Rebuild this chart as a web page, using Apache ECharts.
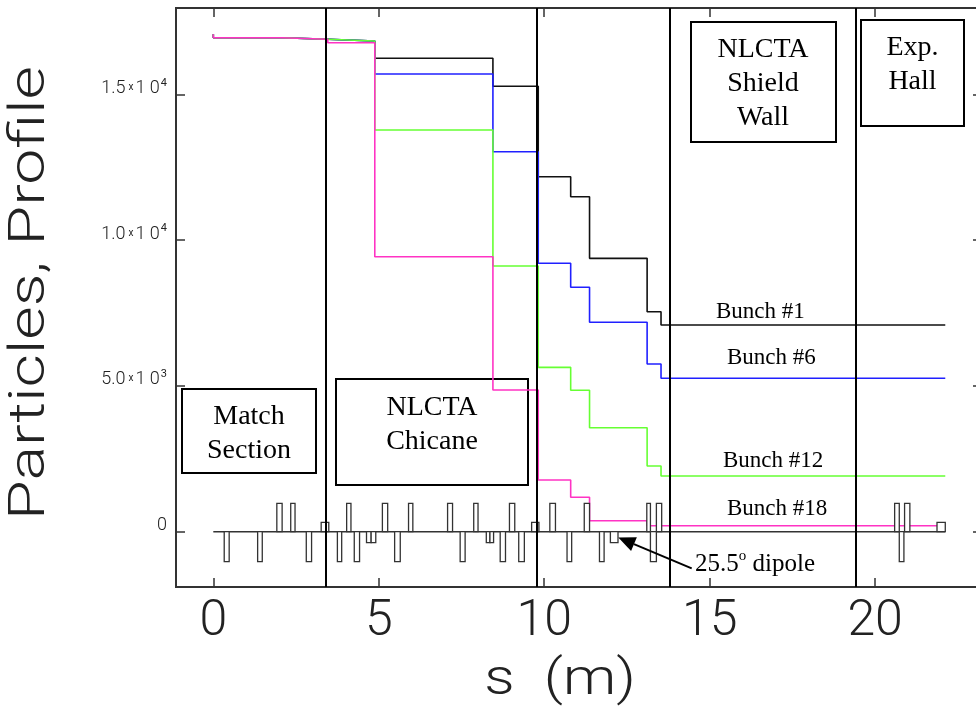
<!DOCTYPE html>
<html><head><meta charset="utf-8">
<script src="https://cdn.jsdelivr.net/npm/echarts@6/dist/echarts.min.js"></script>
<style>html,body{margin:0;padding:0;background:#fff}#c{width:976px;height:708px}</style>
</head><body><div id="c"></div>
<script>
// ---- data ----
const stepS = [0, 2.07, 3.46, 4.88, 8.45, 9.82, 10.80, 11.37, 13.11, 13.53, 22.12];
const startValue = 17058;
const bunch1  = [16941, 16886, 16827, 16235, 15274, 12174, 11488, 9375, 7545, 7088];
const bunch6  = [16941, 16886, 16827, 15695, 13031, 9204, 8381, 7181, 5751, 5261];
const bunch12 = [16941, 16886, 16827, 13775, 9111, 5637, 4849, 3567, 2253, 1910];
const bunch18 = [16941, 16886, 16769, 9431, 4860, 1773, 1180, 377, 206, 206];
const sectionBoundaries = [3.40, 9.78, 13.78, 19.40];
const xTicks = [0, 5, 10, 15, 20];
const yTicks = [0, 5000, 10000, 15000];
const yTickLabels = ['{a|0}', '{a|5.0}{x|x}{a|1 0}{s|3}', '{a|1.0}{x|x}{a|1 0}{s|4}', '{a|1.5}{x|x}{a|1 0}{s|4}'];
const latticeStart  = [0.33,1.34,1.92,2.34,2.81,3.26,3.75,4.03,4.26,4.63,4.77,5.11,5.48,5.90,7.08,7.46,7.87,8.25,8.36,8.67,8.95,9.23,9.62,10.17,10.69,11.21,11.67,12.00,13.10,13.21,13.39,20.59,20.73,20.89,21.87];
const latticeEnd    = [0.48,1.48,2.08,2.47,2.97,3.49,3.88,4.16,4.42,4.77,4.91,5.27,5.65,6.03,7.23,7.61,8.00,8.36,8.47,8.83,9.11,9.40,9.84,10.34,10.83,11.37,11.81,12.23,13.21,13.39,13.55,20.73,20.87,21.05,22.12];
const latticeHeight = [-1029,-1029,974,974,-1029,322,-1029,974,-1029,-377,-377,974,-1029,974,974,-1029,974,-377,-377,-1029,974,-1029,322,974,-1029,974,-1029,-377,974,-1029,974,974,-1029,974,322];
const baselineS = [0, 22.12];
const bunchNames = ['Bunch #1', 'Bunch #6', 'Bunch #12', 'Bunch #18'];

function stepData(vals) {
  const d = [[stepS[0], startValue]];
  for (let i = 0; i < vals.length; i++) d.push([stepS[i], vals[i]]);
  d.push([stepS[stepS.length - 1], vals[vals.length - 1]]);
  return d;
}
const latticeData = latticeStart.map((s, i) => [s, latticeEnd[i], latticeHeight[i]]);

const thinFont = 'Roboto';
const serif = 'Liberation Serif, Times New Roman, serif';
const chart = echarts.init(document.getElementById('c'), null, {renderer: 'canvas'});

function lineSeries(name, vals, color) {
  return {name, type: 'line', step: 'end', data: stepData(vals), symbol: 'none',
    lineStyle: {color, width: 1.6}, z: 3, animation: false, clip: true};
}

function box(x, y, w, h, text, tx, ty) {
  return {type: 'group', z: 100, children: [
    {type: 'rect', shape: {x, y, width: w, height: h}, style: {fill: '#fff', stroke: '#000', lineWidth: 2}},
    {type: 'text', x: tx, y: ty, style: {text, font: '28px ' + serif, fill: '#000', align: 'center', verticalAlign: 'middle', lineHeight: 34}}
  ]};
}
function label(x, y, text, size) {
  return {type: 'text', z: 100, x, y, style: {text, font: size + 'px ' + serif, fill: '#000', align: 'left', verticalAlign: 'middle'}};
}

const arrowFrom = [691.7, 568.3], arrowTip = [618.3, 537.5];
const ang = Math.atan2(arrowFrom[1] - arrowTip[1], arrowFrom[0] - arrowTip[0]);
const hl = 17, hw = 7.5;
const bx = arrowTip[0] + hl * Math.cos(ang), by = arrowTip[1] + hl * Math.sin(ang);
const head = [arrowTip, [bx - hw * Math.sin(ang), by + hw * Math.cos(ang)], [bx + hw * Math.sin(ang), by - hw * Math.cos(ang)]];

const axisCommonX = {type: 'value', min: -1.127, max: 23.26, splitLine: {show: false}, axisLine: {show: false, onZero: false}};
const axisCommonY = {type: 'value', min: -1896, max: 17960, splitLine: {show: false}, axisLine: {show: false, onZero: false}};
const tickStyle = {color: '#333', width: 1.5};

chart.setOption({
  animation: false,
  backgroundColor: '#fff',
  grid: {left: 176, top: 8, width: 807, height: 579, outerBoundsMode: 'none', containLabel: false,
    show: true, borderColor: '#333', borderWidth: 2, backgroundColor: 'transparent'},
  xAxis: [
    Object.assign({}, axisCommonX, {position: 'bottom',
      axisTick: {show: true, inside: true, length: 9, lineStyle: tickStyle, customValues: xTicks},
      axisLabel: {show: true, customValues: xTicks, fontSize: 50, fontFamily: thinFont, fontWeight: 300, color: '#222', margin: 10}}),
    Object.assign({}, axisCommonX, {position: 'top',
      axisTick: {show: true, inside: true, length: 9, lineStyle: tickStyle, customValues: xTicks},
      axisLabel: {show: false}})
  ],
  yAxis: [
    Object.assign({}, axisCommonY, {position: 'left',
      axisTick: {show: true, inside: true, length: 9, lineStyle: tickStyle, customValues: yTicks},
      axisLabel: {show: true, customValues: yTicks, margin: 9, padding: [0, 0, 14, 0],
        formatter: function (v) { return yTickLabels[yTicks.indexOf(v)]; },
        rich: {
          a: {fontSize: 18, fontFamily: thinFont, fontWeight: 300, color: '#222', lineHeight: 20, verticalAlign: 'bottom'},
          x: {fontSize: 10, fontFamily: thinFont, color: '#222', lineHeight: 20, verticalAlign: 'middle', padding: [0, 2, 0, 3]},
          s: {fontSize: 11, fontFamily: thinFont, color: '#222', lineHeight: 20, verticalAlign: 'top', padding: [0, 0, 0, 1]}
        }}}),
    Object.assign({}, axisCommonY, {position: 'right',
      axisTick: {show: true, inside: true, length: 10, lineStyle: tickStyle, customValues: yTicks},
      axisLabel: {show: false}})
  ],
  series: [
    {type: 'line', data: baselineS.map(s => [s, 0]), symbol: 'none', lineStyle: {color: '#333', width: 1.5}, z: 2,
      markLine: {silent: true, symbol: 'none', label: {show: false}, lineStyle: {color: '#000', width: 2, type: 'solid'},
        data: sectionBoundaries.map(s => ({xAxis: s}))}},
    lineSeries(bunchNames[0], bunch1, '#111111'),
    lineSeries(bunchNames[1], bunch6, '#2020ff'),
    lineSeries(bunchNames[2], bunch12, '#66ff33'),
    lineSeries(bunchNames[3], bunch18, '#ff33c4'),
    {type: 'custom', data: latticeData, z: 4,
      encode: {x: [0, 1], y: 2},
      renderItem: function (params, api) {
        const p0 = api.coord([api.value(0), 0]);
        const p1 = api.coord([api.value(1), api.value(2)]);
        return {type: 'rect', shape: {x: p0[0], y: Math.min(p0[1], p1[1]), width: p1[0] - p0[0], height: Math.abs(p1[1] - p0[1])},
          style: {fill: '#fff', stroke: '#333', lineWidth: 1.3}};
      }}
  ],
  graphic: [
    box(182, 389, 134, 84, 'Match\nSection', 249, 434),
    box(336, 379, 192, 106, 'NLCTA\nChicane', 432, 425),
    box(691, 22, 145, 120, 'NLCTA\nShield\nWall', 763, 84),
    box(861, 20, 103, 106, 'Exp.\nHall', 912.5, 65),
    label(716, 312, bunchNames[0], 23),
    label(727, 358, bunchNames[1], 23),
    label(723, 461, bunchNames[2], 23),
    label(727, 509, bunchNames[3], 23),
    {type: 'text', z: 100, x: 695, y: 563, style: {
      text: '{n|25.5}{o|o}{n| dipole}', fill: '#000',
      rich: {n: {font: '25px ' + serif, verticalAlign: 'bottom', lineHeight: 28}, o: {font: '15px ' + serif, verticalAlign: 'top', lineHeight: 28}},
      align: 'left', verticalAlign: 'middle'}},
    {type: 'line', z: 100, shape: {x1: arrowFrom[0], y1: arrowFrom[1], x2: bx, y2: by}, style: {stroke: '#000', lineWidth: 2}},
    {type: 'polygon', z: 100, shape: {points: head}, style: {fill: '#000'}},
    {type: 'text', z: 100, x: 31.7, y: 293, rotation: Math.PI / 2, scaleX: 1.29,
      style: {text: 'Particles, Profile', font: '300 50px ' + thinFont, fill: '#222', align: 'center', verticalAlign: 'middle'}},
    {type: 'text', z: 100, x: 560, y: 681, scaleX: 1.2,
      style: {text: 's  (m)', font: '300 50px ' + thinFont, fill: '#222', align: 'center', verticalAlign: 'middle'}}
  ]
});
</script></body></html>
